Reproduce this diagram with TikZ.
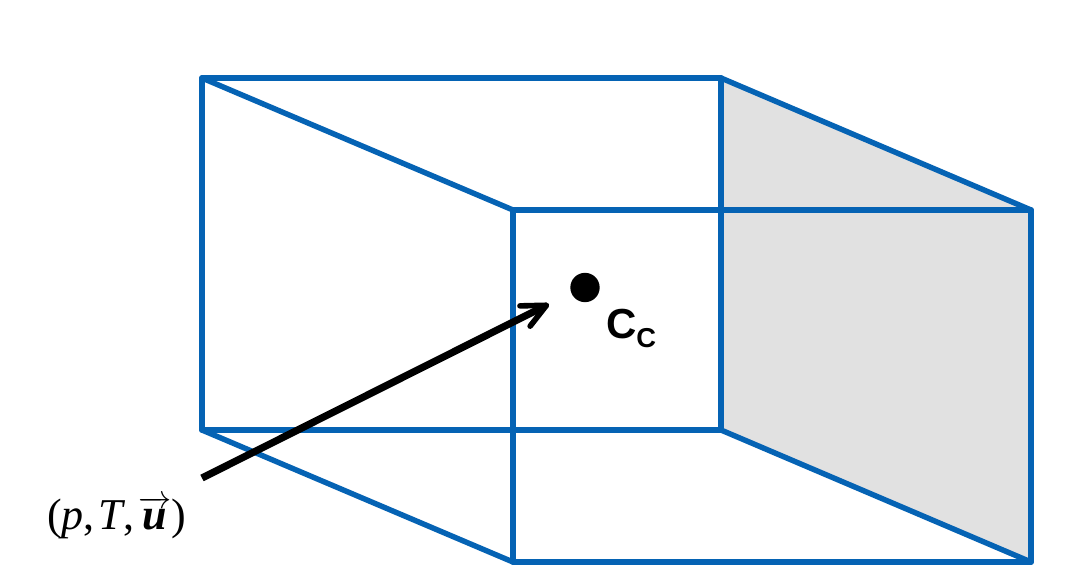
\documentclass[tikz,border=0pt]{standalone}
\usepackage{fontspec}
\usepackage{amsmath}
\setsansfont{Liberation Sans}
\newfontfamily\mathlike{Liberation Serif}
\usetikzlibrary{arrows.meta}
\definecolor{boxblue}{HTML}{0563B4}
\definecolor{sidegray}{HTML}{E1E1E1}
\tikzset{px/.style={x=0.75pt,y=-0.75pt},
 edge/.style={draw=boxblue,line width=4.1pt,line cap=round,line join=round},
 lbl/.style={inner sep=0pt,outer sep=0pt}}
\begin{document}
\begin{tikzpicture}[px]
\useasboundingbox (0,0) rectangle (1073,579);
\fill[white] (0,0) rectangle (1073,579);
\coordinate (a) at (202,78);
\coordinate (b) at (721,78);
\coordinate (c) at (721,430);
\coordinate (d) at (202,430);
\coordinate (e) at (513,210);
\coordinate (f) at (1031,210);
\coordinate (g) at (1031,562);
\coordinate (h) at (513,562);
\fill[sidegray] (b) -- (f) -- (g) -- (c) -- cycle;
\draw[edge] (a) -- (b) -- (c) -- (d) -- cycle;
\draw[edge] (e) -- (f) -- (g) -- (h) -- cycle;
\draw[edge] (a) -- (e) (b) -- (f) (c) -- (g) (d) -- (h);
\node[circle,fill=black,minimum size=22pt,inner sep=0pt] (cc) at (585,287.5) {};
\node[lbl,anchor=base west] (cl) at (606,338.5) {\fontsize{31.5}{32}\selectfont\sffamily\bfseries C\raisebox{-7pt}{\fontsize{20.5}{21}\selectfont C}};
\coordinate (s) at (202,478);
\coordinate (t) at (549,304);
\draw[black,line width=5.4pt,-{Straight Barb[length=18pt,width=17pt,line width=4.2pt,round]}] (s) -- (t);
\node[lbl,anchor=base west] (m) at (47,529) {\fontsize{33}{33}\selectfont\mathlike (\textit{p},\kern3pt\textit{T},\kern3pt$\overrightarrow{\text{\mathlike\bfseries\itshape \kern1pt u\kern1pt}}$)};
\end{tikzpicture}
\end{document}
